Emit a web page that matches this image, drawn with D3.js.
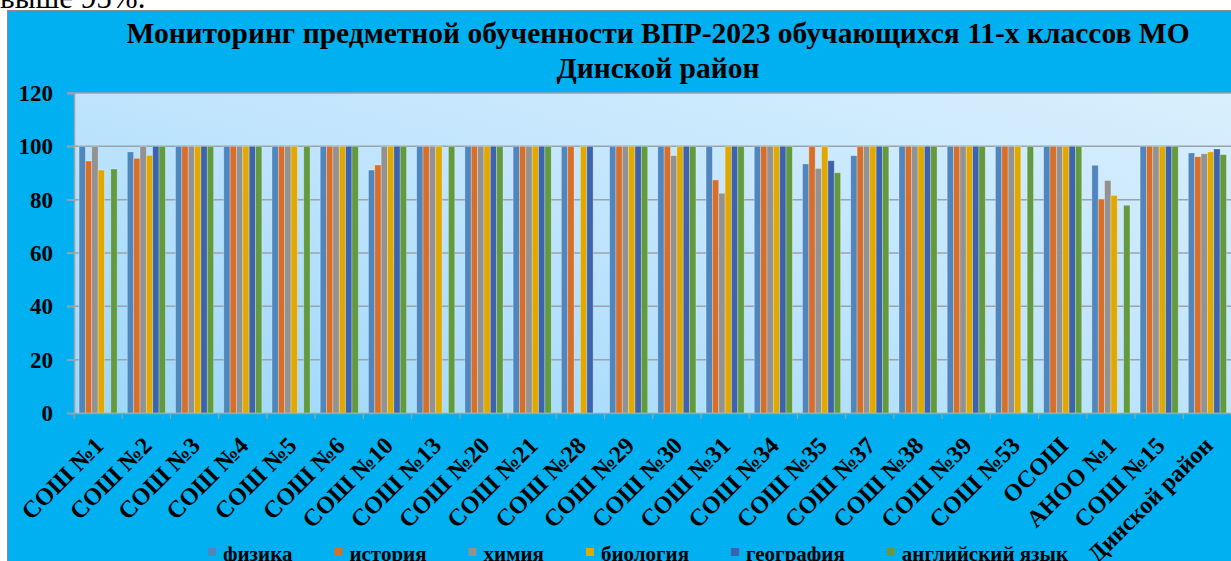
<!DOCTYPE html>
<html>
<head>
<meta charset="utf-8">
<script src="https://cdn.jsdelivr.net/npm/d3@7"></script>
<style>
  html, body { margin: 0; padding: 0; background: #fff; overflow: hidden; }
  svg { display: block; }
  svg text { font-family: "Liberation Serif", "Times New Roman", serif; }
</style>
</head>
<body>
<svg id="chart" width="1231" height="561"></svg>
<script>
// ── data ─────────────────────────────────────────────────────────────────────
const categories = [
  "СОШ №1", "СОШ №2", "СОШ №3", "СОШ №4", "СОШ №5", "СОШ №6",
  "СОШ №10", "СОШ №13", "СОШ №20", "СОШ №21", "СОШ №28", "СОШ №29",
  "СОШ №30", "СОШ №31", "СОШ №34", "СОШ №35", "СОШ №37", "СОШ №38",
  "СОШ №39", "СОШ №53", "ОСОШ", "АНОО №1", "СОШ №15", "Динской район"
];

const physics   = [100, 97.9, 100, 100, 100, 100, 91.1, 100, 100, 100, 100, 100,
                   100, 100, 100, 93.4, 96.5, 100, 100, 100, 100, 92.9, 100, 97.5];
const history   = [94.5, 95.5, 100, 100, 100, 100, 93, 100, 100, 100, 100, 100,
                   100, 87.4, 100, 100, 100, 100, 100, 100, 100, 80.2, 100, 96.1];
const chemistry = [100, 100, 100, 100, 100, 100, 100, 100, 100, 100, null, 100,
                   96.5, 82.4, 100, 91.7, 100, 100, 100, 100, 100, 87.2, 100, 97.2];
const biology   = [91.1, 96.6, 100, 100, 100, 100, 100, 100, 100, 100, 100, 100,
                   100, 100, 100, 100, 100, 100, 100, 100, 100, 81.6, 100, 97.9];
const geography = [null, 100, 100, 100, null, 100, 100, null, 100, 100, 100, 100,
                   100, 100, 100, 94.6, 100, 100, 100, null, 100, null, 100, 99];
const english   = [91.5, 100, 100, 100, 100, 100, 100, 100, 100, 100, null, 100,
                   100, 100, 100, 90.1, 100, 100, 100, 100, 100, 77.9, 100, 96.9];

const seriesNames  = ["физика", "история", "химия", "биология", "география", "английский язык"];
const seriesValues = [physics, history, chemistry, biology, geography, english];
const seriesColors = ["#4f86be", "#d76f2b", "#929292", "#e1a900", "#3c63ad", "#639a3f"];

const yTicks = [0, 20, 40, 60, 80, 100, 120];

const titleLines = [
  "Мониторинг предметной обученности ВПР-2023 обучающихся 11-х классов МО",
  "Динской район"
];

// ── layout ───────────────────────────────────────────────────────────────────
const W = 1231, H = 561;
const plot = { left: 74, right: 1231.5, top: 93, bottom: 413 };
const SERIF = "Liberation Serif, Times New Roman, serif";

const svg = d3.select("#chart");

// text above the chart (cut off by the frame)
svg.append("text")
  .attr("x", 0).attr("y", 8)
  .attr("font-family", SERIF)
  .attr("font-size", 31)
  .attr("fill", "#000")
  .text("выше 95%.");

// chart area
svg.append("rect")
  .attr("x", 7.5).attr("y", 10.5)
  .attr("width", W).attr("height", H)
  .attr("fill", "#00b0f0")
  .attr("stroke", "#8c8c8c").attr("stroke-width", 1);

// plot area gradient
const defs = svg.append("defs");
const grad = defs.append("linearGradient")
  .attr("id", "plotGrad")
  .attr("x1", "0%").attr("y1", "100%")
  .attr("x2", "100%").attr("y2", "0%");
grad.append("stop").attr("offset", "0%").attr("stop-color", "#9cd7fc");
grad.append("stop").attr("offset", "50%").attr("stop-color", "#bfe4fd");
grad.append("stop").attr("offset", "100%").attr("stop-color", "#d9effd");

svg.append("rect")
  .attr("x", plot.left).attr("y", plot.top)
  .attr("width", plot.right - plot.left).attr("height", plot.bottom - plot.top)
  .attr("fill", "url(#plotGrad)");

// scales
const x0 = d3.scaleBand()
  .domain(categories)
  .range([plot.left, plot.right])
  .padding(0);

const bw = x0.bandwidth();
const x1 = d3.scaleBand()
  .domain(seriesNames)
  .range([bw * 0.105, bw * 0.895])
  .padding(0);

const y = d3.scaleLinear()
  .domain([0, 120])
  .range([plot.bottom, plot.top]);

// gridlines
svg.append("g")
  .selectAll("line")
  .data(yTicks.filter(t => t > 0))
  .enter().append("line")
  .attr("x1", plot.left - 7).attr("x2", plot.right)
  .attr("y1", d => y(d)).attr("y2", d => y(d))
  .attr("stroke", "#9aa3aa")
  .attr("stroke-width", 1.5);

// bars
const groups = svg.append("g").selectAll("g")
  .data(categories)
  .enter().append("g")
  .attr("transform", d => `translate(${x0(d)},0)`);

groups.selectAll("rect")
  .data((c, i) => seriesNames.map((s, k) => ({ s, v: seriesValues[k][i], color: seriesColors[k] })))
  .enter().filter(d => d.v != null).append("rect")
  .attr("x", d => x1(d.s))
  .attr("y", d => y(d.v))
  .attr("width", x1.bandwidth())
  .attr("height", d => y(0) - y(d.v))
  .attr("fill", d => d.color)
  .attr("stroke", "rgba(255,255,255,0.35)")
  .attr("stroke-width", 0.8);

// y axis
const yAxis = svg.append("g")
  .attr("transform", `translate(${plot.left},0)`)
  .call(d3.axisLeft(y).tickValues(yTicks).tickSize(7).tickPadding(14));
yAxis.attr("font-family", SERIF);
yAxis.select(".domain").attr("stroke", "#9aa3aa").attr("stroke-width", 1.5);
yAxis.selectAll(".tick line").attr("stroke", "#9aa3aa").attr("stroke-width", 1.5);
yAxis.selectAll(".tick text")
  .attr("font-family", SERIF)
  .attr("font-size", 23).attr("font-weight", "bold")
  .attr("fill", "#000");

// x axis
const xAxis = svg.append("g")
  .attr("transform", `translate(0,${plot.bottom})`)
  .call(d3.axisBottom(x0).tickSize(0).tickFormat(""));
xAxis.select(".domain").attr("stroke", "#9aa3aa").attr("stroke-width", 1.5);

// category boundary ticks
svg.append("g").selectAll("line")
  .data(categories)
  .enter().append("line")
  .attr("x1", d => x0(d)).attr("x2", d => x0(d))
  .attr("y1", plot.bottom).attr("y2", plot.bottom + 6)
  .attr("stroke", "#9aa3aa").attr("stroke-width", 1.2);

// rotated category labels
svg.append("g").selectAll("text")
  .data(categories)
  .enter().append("text")
  .attr("transform", d => `translate(${x0(d) + bw / 2 + 7},${plot.bottom + 34}) rotate(-45)`)
  .attr("text-anchor", "end")
  .attr("font-family", SERIF)
  .attr("font-size", 24).attr("font-weight", "bold")
  .attr("fill", "#000")
  .text(d => d);

// title
svg.append("g").selectAll("text")
  .data(titleLines)
  .enter().append("text")
  .attr("x", 658)
  .attr("y", (d, i) => 43 + i * 35)
  .attr("text-anchor", "middle")
  .attr("font-family", SERIF)
  .attr("font-size", 29.5).attr("font-weight", "bold")
  .attr("fill", "#000")
  .text(d => d);

// legend
const legend = svg.append("g");
let lx = 0;
seriesNames.forEach((name, k) => {
  const item = legend.append("g").attr("transform", `translate(${lx},0)`);
  item.append("rect")
    .attr("x", 0).attr("y", -13)
    .attr("width", 8).attr("height", 8)
    .attr("fill", seriesColors[k]);
  const t = item.append("text")
    .attr("x", 15).attr("y", 0)
    .attr("font-family", SERIF)
    .attr("font-size", 21).attr("font-weight", "bold")
    .attr("fill", "#000")
    .text(name);
  lx += 15 + t.node().getComputedTextLength() + 42;
});
const legendWidth = lx - 42;
legend.attr("transform", `translate(${638 - legendWidth / 2},561)`);
</script>
</body>
</html>
